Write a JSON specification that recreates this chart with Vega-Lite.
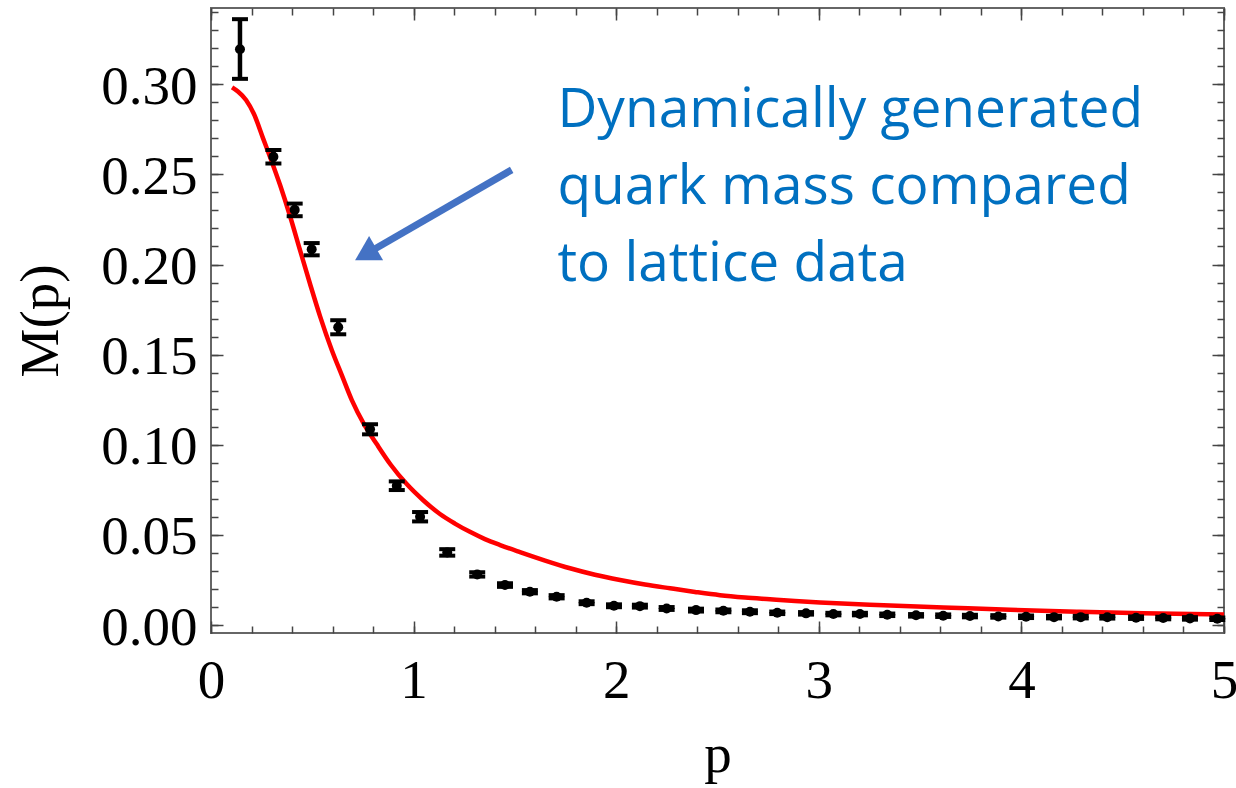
{
  "$schema": "https://vega.github.io/schema/vega-lite/v6.json",
  "width": 1013,
  "height": 625,
  "autosize": {"type": "none"},
  "padding": {"left": 211, "top": 8, "right": 12, "bottom": 155},
  "background": "white",
  "config": {
    "view": {"stroke": "#666666", "strokeWidth": 2},
    "axis": {"grid": false, "labelColor": "black", "titleColor": "black"}
  },
  "resolve": {"axis": {"x": "independent", "y": "independent"}},
  "datasets": {
    "lattice": [
      {"p": 0.143, "M": 0.3194, "lo": 0.3030, "hi": 0.3361},
      {"p": 0.308, "M": 0.2598, "lo": 0.2561, "hi": 0.2635},
      {"p": 0.413, "M": 0.2303, "lo": 0.2268, "hi": 0.2338},
      {"p": 0.497, "M": 0.2085, "lo": 0.2051, "hi": 0.2119},
      {"p": 0.628, "M": 0.1652, "lo": 0.1613, "hi": 0.1691},
      {"p": 0.785, "M": 0.1086, "lo": 0.1058, "hi": 0.1114},
      {"p": 0.917, "M": 0.0773, "lo": 0.0749, "hi": 0.0797},
      {"p": 1.032, "M": 0.0601, "lo": 0.0575, "hi": 0.0627},
      {"p": 1.166, "M": 0.0403, "lo": 0.0385, "hi": 0.0421},
      {"p": 1.314, "M": 0.0281, "lo": 0.0269, "hi": 0.0293},
      {"p": 1.451, "M": 0.0222, "lo": 0.0212, "hi": 0.0232},
      {"p": 1.574, "M": 0.0185, "lo": 0.0176, "hi": 0.0194},
      {"p": 1.706, "M": 0.0157, "lo": 0.0148, "hi": 0.0166},
      {"p": 1.854, "M": 0.0124, "lo": 0.0116, "hi": 0.0132},
      {"p": 1.989, "M": 0.0107, "lo": 0.0099, "hi": 0.0115},
      {"p": 2.117, "M": 0.0105, "lo": 0.0097, "hi": 0.0113},
      {"p": 2.249, "M": 0.0092, "lo": 0.0084, "hi": 0.0100},
      {"p": 2.394, "M": 0.0083, "lo": 0.0075, "hi": 0.0091},
      {"p": 2.529, "M": 0.0079, "lo": 0.0071, "hi": 0.0087},
      {"p": 2.660, "M": 0.0074, "lo": 0.0066, "hi": 0.0082},
      {"p": 2.795, "M": 0.0068, "lo": 0.0061, "hi": 0.0075},
      {"p": 2.937, "M": 0.0065, "lo": 0.0058, "hi": 0.0072},
      {"p": 3.072, "M": 0.0061, "lo": 0.0054, "hi": 0.0068},
      {"p": 3.203, "M": 0.0061, "lo": 0.0054, "hi": 0.0068},
      {"p": 3.338, "M": 0.0057, "lo": 0.0050, "hi": 0.0064},
      {"p": 3.480, "M": 0.0054, "lo": 0.0047, "hi": 0.0061},
      {"p": 3.614, "M": 0.0052, "lo": 0.0045, "hi": 0.0059},
      {"p": 3.746, "M": 0.0050, "lo": 0.0043, "hi": 0.0057},
      {"p": 3.886, "M": 0.0048, "lo": 0.0041, "hi": 0.0055},
      {"p": 4.023, "M": 0.0046, "lo": 0.0039, "hi": 0.0053},
      {"p": 4.161, "M": 0.0044, "lo": 0.0037, "hi": 0.0051},
      {"p": 4.293, "M": 0.0044, "lo": 0.0037, "hi": 0.0051},
      {"p": 4.424, "M": 0.0043, "lo": 0.0036, "hi": 0.0050},
      {"p": 4.566, "M": 0.0041, "lo": 0.0034, "hi": 0.0048},
      {"p": 4.700, "M": 0.0039, "lo": 0.0032, "hi": 0.0046},
      {"p": 4.832, "M": 0.0037, "lo": 0.0030, "hi": 0.0044},
      {"p": 4.967, "M": 0.0035, "lo": 0.0028, "hi": 0.0042}
    ],
    "fit": [
      {"p": 0.104, "M": 0.2983},
      {"p": 0.133, "M": 0.2960},
      {"p": 0.173, "M": 0.2913},
      {"p": 0.212, "M": 0.2835},
      {"p": 0.258, "M": 0.2697},
      {"p": 0.291, "M": 0.2598},
      {"p": 0.341, "M": 0.2441},
      {"p": 0.390, "M": 0.2269},
      {"p": 0.439, "M": 0.2081},
      {"p": 0.489, "M": 0.1892},
      {"p": 0.538, "M": 0.1714},
      {"p": 0.596, "M": 0.1526},
      {"p": 0.647, "M": 0.1382},
      {"p": 0.695, "M": 0.1248},
      {"p": 0.755, "M": 0.1115},
      {"p": 0.818, "M": 0.1004},
      {"p": 0.888, "M": 0.0888},
      {"p": 0.966, "M": 0.0782},
      {"p": 1.046, "M": 0.0694},
      {"p": 1.130, "M": 0.0616},
      {"p": 1.204, "M": 0.0563},
      {"p": 1.278, "M": 0.0517},
      {"p": 1.352, "M": 0.0477},
      {"p": 1.427, "M": 0.0444},
      {"p": 1.525, "M": 0.0405},
      {"p": 1.649, "M": 0.0358},
      {"p": 1.772, "M": 0.0315},
      {"p": 1.895, "M": 0.0279},
      {"p": 2.019, "M": 0.0250},
      {"p": 2.142, "M": 0.0225},
      {"p": 2.266, "M": 0.0204},
      {"p": 2.389, "M": 0.0184},
      {"p": 2.512, "M": 0.0166},
      {"p": 2.636, "M": 0.0153},
      {"p": 2.759, "M": 0.0143},
      {"p": 2.883, "M": 0.0133},
      {"p": 3.006, "M": 0.0125},
      {"p": 3.286, "M": 0.0111},
      {"p": 3.615, "M": 0.0098},
      {"p": 3.944, "M": 0.0085},
      {"p": 4.273, "M": 0.0074},
      {"p": 4.602, "M": 0.0065},
      {"p": 5.000, "M": 0.0058}
    ],
    "note": [
      {"p": 1.71, "M": 0.2765, "label": ["Dynamically generated", "quark mass compared", "to lattice data"]}
    ],
    "arrow": [
      {"p": 1.484, "M": 0.2525, "p_end": 0.763, "M_end": 0.2057}
    ]
  },
  "layer": [
    {
      "data": {"name": "fit"},
      "mark": {"type": "line", "color": "#ff0000", "strokeWidth": 4.5, "interpolate": "monotone"},
      "encoding": {
        "x": {
          "field": "p", "type": "quantitative",
          "scale": {"domain": [0, 5], "nice": false, "zero": false},
          "axis": {
            "orient": "bottom", "title": "p", "values": [0, 1, 2, 3, 4, 5], "format": "d",
            "ticks": false, "domain": false, "labelFlush": false, "labelOverlap": false,
            "labelFont": "Liberation Serif", "labelFontSize": 55, "labelPadding": 21,
            "titleFont": "Liberation Serif", "titleFontSize": 55, "titleFontWeight": "normal", "titlePadding": 20
          }
        },
        "y": {
          "field": "M", "type": "quantitative",
          "scale": {"domain": [-0.0044, 0.3423], "nice": false, "zero": false},
          "axis": {
            "orient": "left", "title": "M(p)", "values": [0, 0.05, 0.1, 0.15, 0.2, 0.25, 0.3], "format": ".2f",
            "ticks": false, "domain": false, "labelFlush": false, "labelOverlap": false,
            "labelFont": "Liberation Serif", "labelFontSize": 55, "labelPadding": 14, "labelOffset": 2,
            "titleFont": "Liberation Serif", "titleFontSize": 55, "titleFontWeight": "normal", "titlePadding": 31
          }
        }
      }
    },
    {
      "data": {"name": "lattice"},
      "mark": {"type": "rule", "color": "black", "strokeWidth": 4.5},
      "encoding": {
        "x": {
          "field": "p", "type": "quantitative",
          "scale": {"domain": [0, 5], "nice": false, "zero": false},
          "axis": {"orient": "top", "title": null, "labels": false, "domain": false, "values": [0, 1, 2, 3, 4, 5], "tickSize": -12, "tickColor": "#444444", "tickWidth": 1.5}
        },
        "y": {
          "field": "lo", "type": "quantitative",
          "scale": {"domain": [-0.0044, 0.3423], "nice": false, "zero": false},
          "axis": {"orient": "right", "title": null, "labels": false, "domain": false, "values": [0, 0.05, 0.1, 0.15, 0.2, 0.25, 0.3], "tickSize": -12, "tickColor": "#444444", "tickWidth": 1.5}
        },
        "y2": {"field": "hi"}
      }
    },
    {
      "data": {"name": "lattice"},
      "mark": {"type": "tick", "orient": "horizontal", "color": "black", "size": 16, "thickness": 4, "opacity": 1},
      "encoding": {
        "x": {
          "field": "p", "type": "quantitative",
          "scale": {"domain": [0, 5], "nice": false, "zero": false},
          "axis": {"orient": "bottom", "title": null, "labels": false, "domain": false, "values": [0, 0.2, 0.4, 0.6, 0.8, 1, 1.2, 1.4, 1.6, 1.8, 2, 2.2, 2.4, 2.6, 2.8, 3, 3.2, 3.4, 3.6, 3.8, 4, 4.2, 4.4, 4.6, 4.8, 5], "tickSize": -7, "tickColor": "#444444", "tickWidth": 1.5}
        },
        "y": {
          "field": "lo", "type": "quantitative",
          "scale": {"domain": [-0.0044, 0.3423], "nice": false, "zero": false},
          "axis": {"orient": "left", "title": null, "labels": false, "domain": false, "values": [0, 0.01, 0.02, 0.03, 0.04, 0.05, 0.06, 0.07, 0.08, 0.09, 0.1, 0.11, 0.12, 0.13, 0.14, 0.15, 0.16, 0.17, 0.18, 0.19, 0.2, 0.21, 0.22, 0.23, 0.24, 0.25, 0.26, 0.27, 0.28, 0.29, 0.3, 0.31, 0.32, 0.33, 0.34], "tickSize": -7, "tickColor": "#444444", "tickWidth": 1.5}
        }
      }
    },
    {
      "data": {"name": "lattice"},
      "mark": {"type": "tick", "orient": "horizontal", "color": "black", "size": 16, "thickness": 4, "opacity": 1},
      "encoding": {
        "x": {
          "field": "p", "type": "quantitative",
          "scale": {"domain": [0, 5], "nice": false, "zero": false},
          "axis": {"orient": "top", "title": null, "labels": false, "domain": false, "values": [0, 0.2, 0.4, 0.6, 0.8, 1, 1.2, 1.4, 1.6, 1.8, 2, 2.2, 2.4, 2.6, 2.8, 3, 3.2, 3.4, 3.6, 3.8, 4, 4.2, 4.4, 4.6, 4.8, 5], "tickSize": -7, "tickColor": "#444444", "tickWidth": 1.5}
        },
        "y": {
          "field": "hi", "type": "quantitative",
          "scale": {"domain": [-0.0044, 0.3423], "nice": false, "zero": false},
          "axis": {"orient": "right", "title": null, "labels": false, "domain": false, "values": [0, 0.01, 0.02, 0.03, 0.04, 0.05, 0.06, 0.07, 0.08, 0.09, 0.1, 0.11, 0.12, 0.13, 0.14, 0.15, 0.16, 0.17, 0.18, 0.19, 0.2, 0.21, 0.22, 0.23, 0.24, 0.25, 0.26, 0.27, 0.28, 0.29, 0.3, 0.31, 0.32, 0.33, 0.34], "tickSize": -7, "tickColor": "#444444", "tickWidth": 1.5}
        }
      }
    },
    {
      "data": {"name": "lattice"},
      "mark": {"type": "circle", "color": "black", "size": 100, "opacity": 1},
      "encoding": {
        "x": {
          "field": "p", "type": "quantitative",
          "scale": {"domain": [0, 5], "nice": false, "zero": false},
          "axis": {"orient": "bottom", "title": null, "labels": false, "domain": false, "values": [0, 1, 2, 3, 4, 5], "tickSize": -12, "tickColor": "#444444", "tickWidth": 1.5}
        },
        "y": {
          "field": "M", "type": "quantitative",
          "scale": {"domain": [-0.0044, 0.3423], "nice": false, "zero": false},
          "axis": {"orient": "left", "title": null, "labels": false, "domain": false, "values": [0, 0.05, 0.1, 0.15, 0.2, 0.25, 0.3], "tickSize": -12, "tickColor": "#444444", "tickWidth": 1.5}
        }
      }
    },
    {
      "data": {"name": "note"},
      "mark": {"type": "text", "align": "left", "baseline": "alphabetic", "font": "Open Sans", "fontSize": 55, "lineHeight": 77, "color": "#0070c0"},
      "encoding": {
        "x": {"field": "p", "type": "quantitative", "scale": {"domain": [0, 5], "nice": false, "zero": false}, "axis": null},
        "y": {"field": "M", "type": "quantitative", "scale": {"domain": [-0.0044, 0.3423], "nice": false, "zero": false}, "axis": null},
        "text": {"field": "label", "type": "nominal"}
      }
    },
    {
      "data": {"name": "arrow"},
      "mark": {"type": "rule", "color": "#4472c4", "strokeWidth": 7, "strokeCap": "butt"},
      "encoding": {
        "x": {"field": "p", "type": "quantitative", "scale": {"domain": [0, 5], "nice": false, "zero": false}, "axis": null},
        "y": {"field": "M", "type": "quantitative", "scale": {"domain": [-0.0044, 0.3423], "nice": false, "zero": false}, "axis": null},
        "x2": {"field": "p_end"},
        "y2": {"field": "M_end"}
      }
    },
    {
      "data": {"name": "arrow"},
      "mark": {"type": "point", "shape": "triangle-up", "filled": true, "color": "#4472c4", "size": 784, "angle": 240, "opacity": 1},
      "encoding": {
        "x": {"field": "p_end", "type": "quantitative", "scale": {"domain": [0, 5], "nice": false, "zero": false}, "axis": null},
        "y": {"field": "M_end", "type": "quantitative", "scale": {"domain": [-0.0044, 0.3423], "nice": false, "zero": false}, "axis": null}
      }
    }
  ]
}
